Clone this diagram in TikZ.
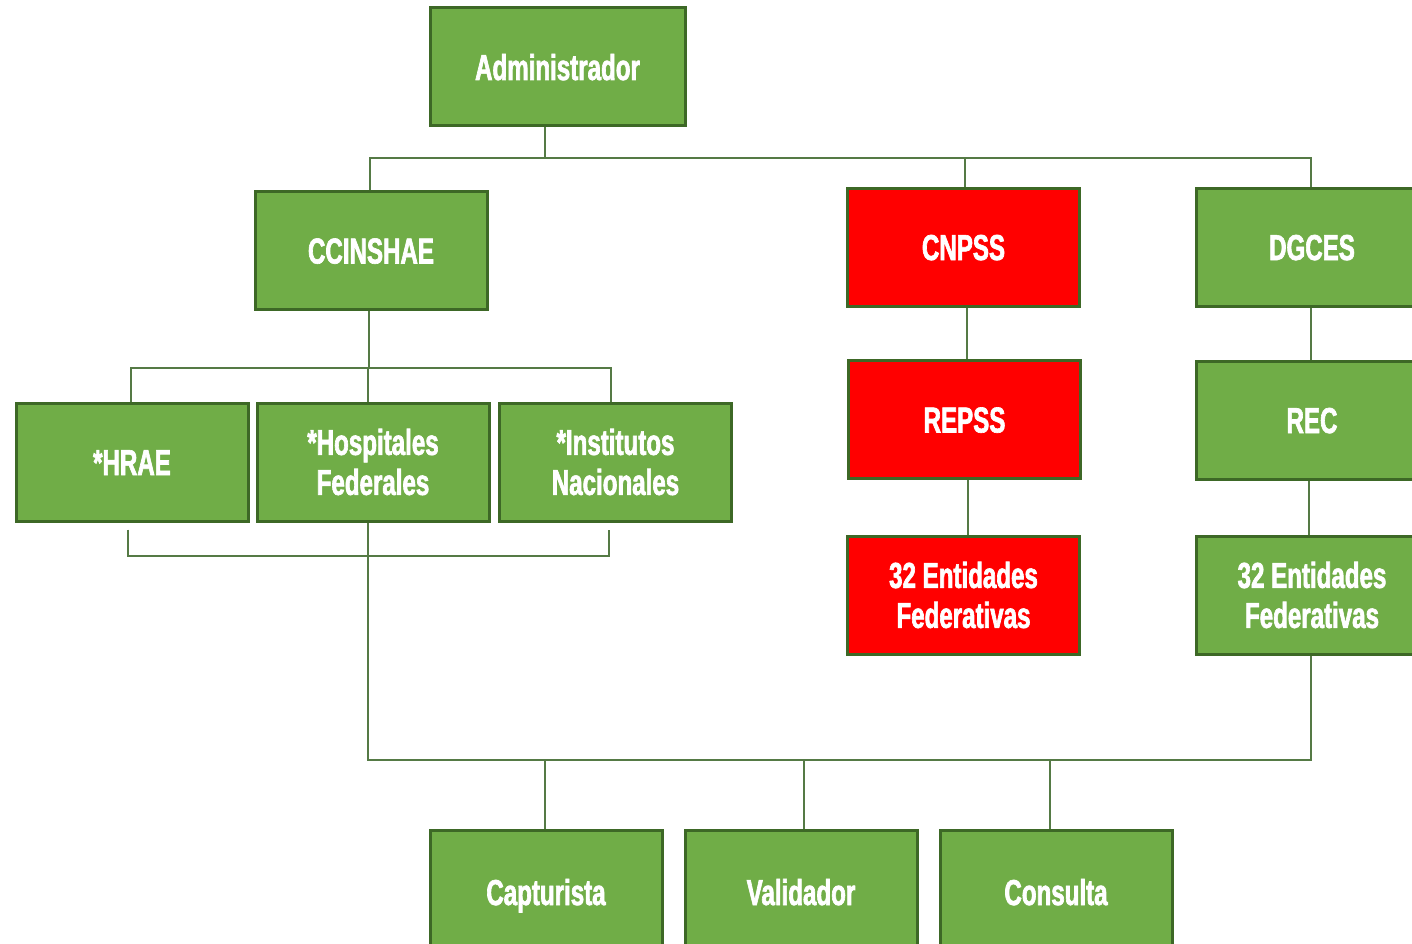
\documentclass[tikz,border=0pt]{standalone}
\usepackage{fontspec}
\usepackage{tikz}
\usetikzlibrary{calc}
\newfontfamily\boxfont[FakeStretch=0.67, BoldFont={Liberation Sans Bold}, BoldFeatures={FakeBold=1.8}]{Liberation Sans}
\definecolor{boxgreen}{HTML}{70AD47}
\definecolor{boxred}{HTML}{FF0000}
\definecolor{edgegreen}{HTML}{3D6826}
\definecolor{linkgreen}{HTML}{557A45}
\tikzset{
	unit/.style={draw=edgegreen, line width=3pt, fill=boxgreen, text=white, minimum width=232pt, minimum height=118pt, inner sep=0pt, align=center, font=\boxfont\bfseries\fontsize{36}{40}\selectfont},
	unitred/.style={unit, fill=boxred},
	oneline/.style={text height=26pt, text depth=0pt},
	link/.style={draw=linkgreen, line width=1.5pt}
}

\begin{document}
\begin{tikzpicture}[x=1pt, y=-1pt]
			%%%%% START %%%%%
			
			\useasboundingbox (0, 0) rectangle (1412, 944);
			\clip (0, 0) rectangle (1412, 944);
			\fill[white] (0, 0) rectangle (1412, 944);
			
			\coordinate (topbus) at (0, 158);
			\coordinate (midbus) at (0, 368);
			\coordinate (lowbus) at (0, 556);
			\coordinate (basebus) at (0, 760);
			
			\node[unit, oneline, minimum width=255pt] (adm) at (557.5, 67) {Administrador};
			
			\node[unit, oneline] (ccin) at (371, 250.5) {CCINSHAE};
			\node[unitred, oneline] (cnpss) at (963.5, 247) {CNPSS};
			\node[unit, oneline] (dgces) at (1312, 247) {DGCES};
			
			\node[unit, oneline] (hrae) at (132, 462) {*HRAE};
			\node[unit] (hosp) at (373, 462) {*Hospitales\\Federales};
			\node[unit] (inst) at (615.5, 462) {*Institutos\\Nacionales};
			
			\node[unitred, oneline] (repss) at (964.5, 419.5) {REPSS};
			\node[unitred] (entr) at (963.5, 595) {32 Entidades\\Federativas};
			
			\node[unit, oneline] (rec) at (1312, 420) {REC};
			\node[unit] (entg) at (1312, 595) {32 Entidades\\Federativas};
			
			\node[unit, oneline, minimum height=124pt] (cap) at (546, 892) {Capturista};
			\node[unit, oneline, minimum height=124pt] (val) at (801, 892) {Validador};
			\node[unit, oneline, minimum height=124pt] (cons) at (1056, 892) {Consulta};
			
			% first level
			\draw[link] ($(adm.south)+(-12.5,0)$) -- ($(adm.south |- topbus)+(-12.5,0)$);
			\draw[link] ($(ccin.north)+(-1,0)$) |- ($(topbus -| dgces.north)+(-1,0)$) -- ($(dgces.north)+(-1,0)$);
			\draw[link] ($(cnpss.north)+(1.5,0)$) -- ($(cnpss.north |- topbus)+(1.5,0)$);
			
			% CCINSHAE
			\draw[link] ($(ccin.south)+(-2,0)$) -- ($(ccin.south |- midbus)+(-2,0)$);
			\draw[link] ($(hrae.north)+(-1,0)$) |- ($(midbus -| inst.north)+(-4.5,0)$) -- ($(inst.north)+(-4.5,0)$);
			\draw[link] ($(hosp.north)+(-5,0)$) -- ($(hosp.north |- midbus)+(-5,0)$);
			\draw[link] ($(hrae.south)+(-4,7)$) |- ($(lowbus -| inst.south)+(-6.5,0)$) -- ($(inst.south)+(-6.5,7)$);
			\draw[link] ($(hosp.south)+(-5,0)$) -- ($(hosp.south |- basebus)+(-5,0)$) -| ($(entg.south)+(-1,0)$);
			
			% CNPSS and DGCES
			\draw[link] ($(cnpss.south)+(3.5,0)$) -- ($(repss.north)+(2.5,0)$);
			\draw[link] ($(repss.south)+(3.5,0)$) -- ($(entr.north)+(4.5,0)$);
			\draw[link] ($(dgces.south)+(-1,0)$) -- ($(rec.north)+(-1,0)$);
			\draw[link] ($(rec.south)+(-3,0)$) -- ($(entg.north)+(-3,0)$);
			
			% roles
			\draw[link] ($(cap.north)+(-1,0)$) -- ($(cap.north |- basebus)+(-1,0)$);
			\draw[link] ($(val.north)+(3,0)$) -- ($(val.north |- basebus)+(3,0)$);
			\draw[link] ($(cons.north)+(-6,0)$) -- ($(cons.north |- basebus)+(-6,0)$);
			
			%%%%% END %%%%%
\end{tikzpicture}
\end{document}
